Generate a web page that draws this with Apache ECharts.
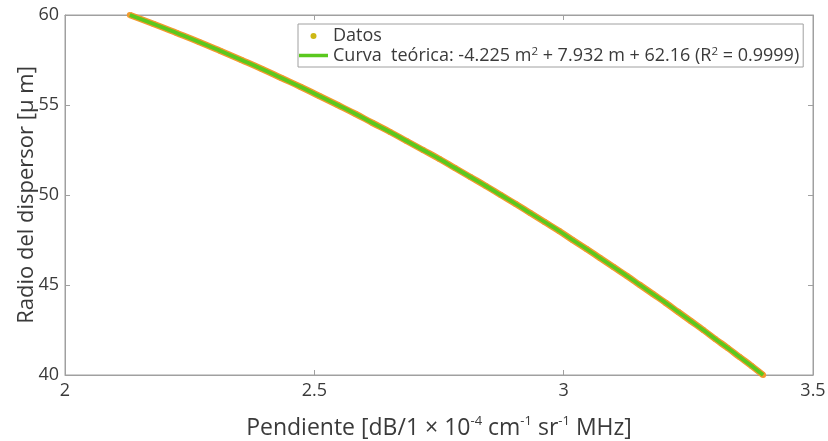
<!DOCTYPE html>
<html><head><meta charset="utf-8">
<script src="https://cdn.jsdelivr.net/npm/echarts@6/dist/echarts.min.js"></script>
<style>html,body{margin:0;padding:0;background:#fff}#c{width:828px;height:441px}</style>
</head><body><div id="c"></div>
<script>
// Data: radius (µm) vs slope
const radios = [60,59.5,59,58.5,58,57.5,57,56.5,56,55.5,55,54.5,54,53.5,53,52.5,52,51.5,51,50.5,50,49.5,49,48.5,48,47.5,47,46.5,46,45.5,45,44.5,44,43.5,43,42.5,42,41.5,41,40.5,40];
const pendientes = [2.130,2.178,2.224,2.269,2.312,2.354,2.395,2.434,2.473,2.510,2.547,2.583,2.617,2.652,2.685,2.718,2.751,2.782,2.813,2.844,2.874,2.904,2.933,2.962,2.991,3.018,3.046,3.073,3.100,3.127,3.153,3.179,3.205,3.230,3.255,3.280,3.304,3.329,3.353,3.377,3.400];
const xTicks = [2, 2.5, 3, 3.5];
const yTicks = [40, 45, 50, 55, 60];
const serieDatos = 'Datos';
const serieCurva = 'Curva';

const font = '"Open Sans", "DejaVu Sans", sans-serif';
const ink = '#3a3a3a';
const pts = pendientes.map((m, i) => [m, radios[i]]);
const chart = echarts.init(document.getElementById('c'));
const legA = {fontSize: 18, fontFamily: font, color: ink, lineHeight: 19};
const legS = {fontSize: 11.5, fontFamily: font, color: ink, verticalAlign: 'top', lineHeight: 19, padding: [0, 0, 8, 0]};
const axA = {fontSize: 23, fontFamily: font, color: ink, lineHeight: 26};
const axS = {fontSize: 13, fontFamily: font, color: ink, verticalAlign: 'top', lineHeight: 26, padding: [0, 0, 12, 0]};
const frame = '#a0a0a0';
chart.setOption({
  animation: false,
  backgroundColor: '#fff',
  grid: {left: 65, right: 15, top: 15, bottom: 66, show: true, borderColor: frame, borderWidth: 1, outerBoundsMode: 'none', containLabel: false},
  legend: {
    orient: 'vertical', left: 298, top: 24,
    backgroundColor: '#fff', borderColor: frame, borderWidth: 1, borderRadius: 0,
    padding: [3, 4, 1, 1], itemGap: 1, itemWidth: 29, itemHeight: 6,
    data: [{name: serieDatos, icon: 'circle', itemStyle: {color: '#cdb814'}},
           {name: serieCurva, icon: 'path://M0,0H29V3.5H0Z', itemStyle: {color: '#5ac81e'}}],
    formatter: function (n) {
      if (n === serieDatos) return '{a|Datos}';
      return '{a|Curva  teórica: -4.225 m}{s|2}{a| + 7.932 m + 62.16 (R}{s|2}{a| = 0.9999)}';
    },
    textStyle: {fontFamily: font, fontSize: 18, color: ink, rich: {a: legA, s: legS}}
  },
  xAxis: [{
    type: 'value', min: 2, max: 3.5, interval: 0.5,
    axisLine: {show: true, onZero: false, lineStyle: {color: frame}},
    axisTick: {show: true, inside: true, length: 5, lineStyle: {color: frame}},
    splitLine: {show: false},
    axisLabel: {fontFamily: font, fontSize: 18, color: ink, margin: 7,
      formatter: v => xTicks.includes(v) ? String(v) : ''},
    name: '{a|Pendiente [dB/1 × 10}{s|-4}{a| cm}{s|-1}{a| sr}{s|-1}{a| MHz]}',
    nameLocation: 'middle', nameGap: 40, nameMoveOverlap: false,
    nameTextStyle: {rich: {a: axA, s: axS}}
  }, {
    type: 'value', position: 'top', min: 2, max: 3.5, interval: 0.5,
    axisLine: {show: true, onZero: false, lineStyle: {color: frame}},
    axisTick: {show: true, inside: true, length: 5, lineStyle: {color: frame}},
    axisLabel: {show: false}, splitLine: {show: false}
  }],
  yAxis: [{
    type: 'value', min: 40, max: 60, interval: 5,
    axisLine: {show: true, onZero: false, lineStyle: {color: frame}},
    axisTick: {show: true, inside: true, length: 5, lineStyle: {color: frame}},
    splitLine: {show: false},
    axisLabel: {fontFamily: font, fontSize: 18, color: ink, margin: 6,
      formatter: v => yTicks.includes(v) ? String(v) : ''},
    name: 'Radio del dispersor [μ m]', nameLocation: 'middle', nameGap: 27, nameMoveOverlap: false,
    nameTextStyle: {fontFamily: font, fontSize: 22, color: ink}
  }, {
    type: 'value', position: 'right', min: 40, max: 60, interval: 5,
    axisLine: {show: true, onZero: false, lineStyle: {color: frame}},
    axisTick: {show: true, inside: true, length: 5, lineStyle: {color: frame}},
    axisLabel: {show: false}, splitLine: {show: false}
  }],
  series: [{
    name: serieDatos, type: 'line', data: pts, smooth: true,
    symbol: 'circle', symbolSize: 6, showSymbol: true,
    lineStyle: {color: '#f29a2e', width: 6.5}, itemStyle: {color: '#f29a2e'}, z: 2
  }, {
    name: serieCurva, type: 'line', data: pts, smooth: true, symbol: 'none',
    lineStyle: {color: '#5ac81e', width: 3.8}, itemStyle: {color: '#5ac81e'}, z: 3
  }]
});
</script></body></html>
